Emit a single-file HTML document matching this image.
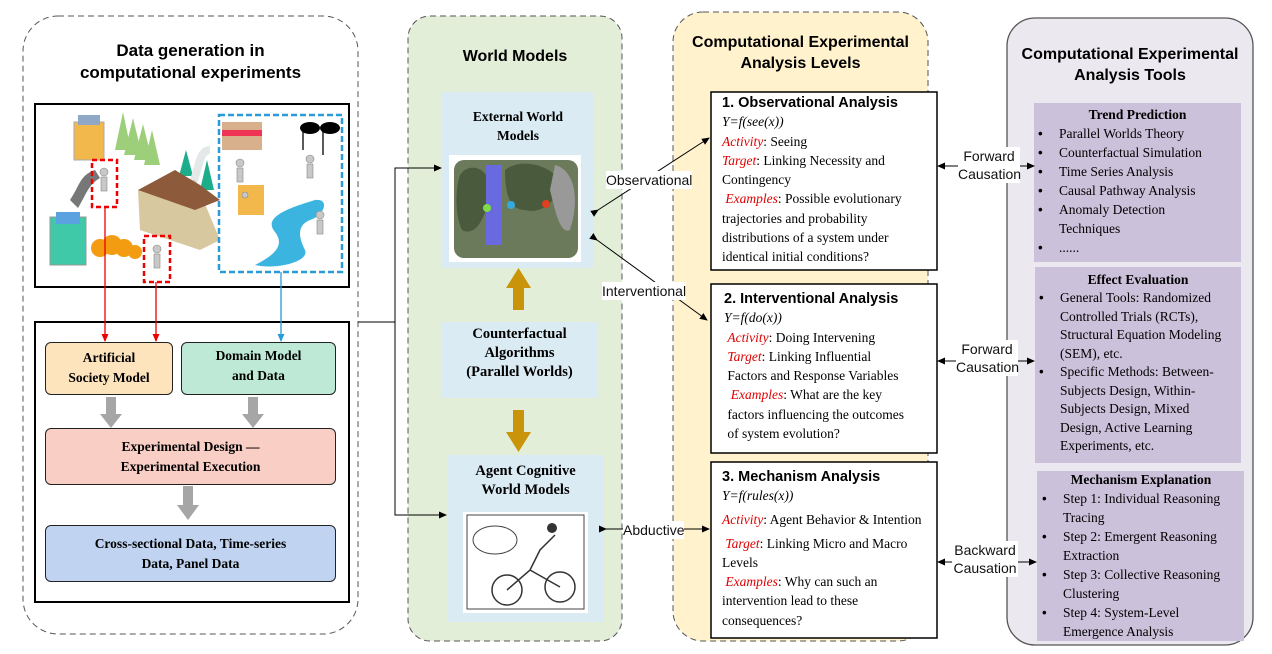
<!DOCTYPE html>
<html><head><meta charset="utf-8"><style>
html,body{margin:0;padding:0;background:#fff;}
body{width:1272px;height:654px;overflow:hidden;position:relative;font-family:"Liberation Serif",serif;}
.t{position:absolute;white-space:nowrap;}
.ti{font-family:"Liberation Sans",sans-serif;font-weight:bold;color:#000;text-align:center;}
.s{font-family:"Liberation Serif",serif;font-size:13.5px;line-height:19.3px;color:#000;}
.r{color:#e00000;font-style:italic;}
.box{position:absolute;box-sizing:border-box;}
.b{font-family:"Liberation Serif",serif;font-weight:bold;font-size:13.5px;text-align:center;line-height:20px;}
ul{margin:0;padding:0;list-style:none;}
li{position:relative;padding-left:25px;}
li:before{content:"•";position:absolute;left:4px;top:0;font-family:"Liberation Sans",sans-serif;}
.sans{font-family:"Liberation Sans",sans-serif;font-size:14px;line-height:18px;background:#fff;color:#111;text-align:center;}
</style></head><body>
<svg width="1272" height="654" style="position:absolute;left:0;top:0">
<defs>
<marker id="a" markerWidth="8" markerHeight="8" refX="7" refY="4" orient="auto" markerUnits="userSpaceOnUse"><path d="M0,0.5 L8,4 L0,7.5z" fill="#000"/></marker>
<marker id="ar" markerWidth="8" markerHeight="8" refX="7" refY="4" orient="auto" markerUnits="userSpaceOnUse"><path d="M0,0.5 L8,4 L0,7.5z" fill="#e00"/></marker>
<marker id="ab" markerWidth="8" markerHeight="8" refX="7" refY="4" orient="auto" markerUnits="userSpaceOnUse"><path d="M0,0.5 L8,4 L0,7.5z" fill="#2a9bd7"/></marker>
</defs>
<rect x="23" y="16" width="335" height="618" rx="35" fill="#fff" stroke="#555" stroke-dasharray="6,4"/>
<rect x="408" y="16" width="214" height="625" rx="22" fill="#e3eed9" stroke="#555" stroke-dasharray="6,4"/>
<rect x="673" y="12" width="255" height="629" rx="30" fill="#fff2cc" stroke="#555" stroke-dasharray="6,4"/>
<rect x="1007" y="18" width="246" height="627" rx="28" fill="#ebe8f0" stroke="#555" stroke-width="1.3"/>
<rect x="35" y="104" width="314" height="183" fill="#fff" stroke="#000" stroke-width="2"/>
<rect x="35" y="322" width="314" height="280" fill="#fff" stroke="#000" stroke-width="2"/>
<path d="M70,200 C80,185 80,175 95,170 L100,178 C88,185 86,195 78,208 Z" fill="#777"/>
<rect x="74" y="122" width="30" height="38" fill="#f2b84b" stroke="#aaa"/>
<rect x="78" y="115" width="22" height="10" fill="#8fa8c8"/>
<rect x="50" y="217" width="36" height="48" fill="#3fc9a8" stroke="#999"/>
<rect x="56" y="212" width="24" height="12" fill="#5aa3e0"/>
<g fill="#9dcf7a"><polygon points="123,112 115,150 131,150"/><polygon points="133,118 124,155 142,155"/><polygon points="143,124 134,160 152,160"/><polygon points="152,130 144,165 160,165"/></g>
<g fill="#1cae8a"><polygon points="186,150 179,176 193,176"/><polygon points="207,160 200,190 214,190"/></g>
<path d="M210,150 C195,150 200,185 185,192" stroke="#e5e8e8" stroke-width="8" fill="none"/>
<polygon points="138,190 195,180 220,240 200,250 140,230" fill="#d8c8a0"/>
<polygon points="138,190 175,170 200,185 220,200 195,210" fill="#8d5a3c"/>
<g fill="#f39c12"><circle cx="100" cy="248" r="9"/><circle cx="112" cy="245" r="10"/><circle cx="124" cy="248" r="9"/><circle cx="135" cy="252" r="7"/></g>
<rect x="92" y="160" width="25" height="47" fill="none" stroke="#e00" stroke-width="2.5" stroke-dasharray="5,3"/>
<rect x="144" y="236" width="26" height="46" fill="none" stroke="#e00" stroke-width="2.5" stroke-dasharray="5,3"/>
<rect x="219" y="115" width="123" height="157" fill="none" stroke="#2a9bd7" stroke-width="2.5" stroke-dasharray="6,3"/>
<rect x="222" y="122" width="40" height="28" fill="#d8b08c"/><rect x="222" y="130" width="40" height="6" fill="#e35"/>
<rect x="238" y="185" width="26" height="30" fill="#f2b84b"/>
<path d="M275,232 C260,215 300,205 315,200 C330,198 325,215 310,220 C295,226 300,240 305,250 C310,262 275,270 255,265 C275,255 285,245 275,232Z" fill="#3cb4e0"/>
<g stroke="#000" stroke-width="1.3"><line x1="303" y1="128" x2="303" y2="150"/><line x1="323" y1="130" x2="323" y2="155"/></g>
<ellipse cx="310" cy="128" rx="10" ry="6" fill="#000"/><ellipse cx="330" cy="128" rx="10" ry="6" fill="#000"/>
<g fill="#c8c8c8" stroke="#888" stroke-width=".6">
<circle cx="104" cy="172" r="4"/><rect x="101" y="177" width="6" height="14"/>
<circle cx="157" cy="249" r="4"/><rect x="154" y="254" width="6" height="14"/>
<circle cx="240" cy="163" r="4"/><rect x="237" y="168" width="6" height="14"/>
<circle cx="310" cy="159" r="4"/><rect x="307" y="164" width="6" height="14"/>
<circle cx="320" cy="215" r="4"/><rect x="317" y="220" width="6" height="14"/>
<circle cx="245" cy="195" r="3"/></g>
<line x1="105" y1="207" x2="105" y2="341" stroke="#e00" stroke-width="1.3" marker-end="url(#ar)"/>
<line x1="156" y1="282" x2="156" y2="341" stroke="#e00" stroke-width="1.3" marker-end="url(#ar)"/>
<line x1="281" y1="272" x2="281" y2="341" stroke="#2a9bd7" stroke-width="1.3" marker-end="url(#ab)"/>
<g fill="#a6a6a6"><polygon points="106,397 116,397 116,414 122,414 111,428 100,414 106,414"/>
<polygon points="248,397 258,397 258,414 264,414 253,428 242,414 248,414"/>
<polygon points="183,486 193,486 193,505 199,505 188,520 177,505 183,505"/></g>
<polyline points="358,322 395,322" stroke="#000" fill="none"/>
<polyline points="440,168 395,168 395,515 445,515" stroke="#000" fill="none"/>
<line x1="420" y1="168" x2="441" y2="168" stroke="#000" marker-end="url(#a)"/>
<line x1="420" y1="515" x2="446" y2="515" stroke="#000" marker-end="url(#a)"/>
<rect x="442" y="92" width="152" height="176" fill="#dbebf3"/>
<rect x="449" y="155" width="132" height="107" fill="#fff"/>
<rect x="454" y="160" width="124" height="98" rx="10" fill="#6b7a5a"/>
<path d="M460,175 C470,160 490,170 488,185 C492,200 480,240 462,230 C455,215 455,190 460,175Z" fill="#4a5a3c"/>
<rect x="486" y="165" width="16" height="80" fill="#6a6ae0"/>
<path d="M505,170 C520,158 545,165 555,175 C565,200 540,215 525,210 C510,210 505,195 505,170Z" fill="#4a5a3c"/>
<path d="M555,165 C575,170 580,200 570,230 C560,235 555,210 550,190Z" fill="#999"/>
<circle cx="487" cy="208" r="4" fill="#7fdd44"/><circle cx="511" cy="205" r="4" fill="#33aadd"/><circle cx="546" cy="204" r="4" fill="#e04020"/>
<rect x="442" y="322" width="155" height="76" fill="#dbebf3"/>
<rect x="447" y="455" width="157" height="167" fill="#dbebf3"/>
<rect x="463" y="512" width="125" height="101" fill="#fff"/>
<rect x="467" y="515" width="117" height="94" fill="none" stroke="#444"/>
<ellipse cx="495" cy="540" rx="22" ry="14" fill="none" stroke="#444"/>
<g fill="none" stroke="#333" stroke-width="1.5"><circle cx="507" cy="590" r="15"/><circle cx="560" cy="587" r="15"/><path d="M507,590 L530,570 L560,587 M530,570 L540,550 L555,535"/></g>
<circle cx="552" cy="528" r="5" fill="#333"/>
<polygon points="513,310 524,310 524,288 531,288 518.5,268 506,288 513,288" fill="#c9940a"/>
<polygon points="513,410 524,410 524,432 531,432 518.5,452 506,432 513,432" fill="#c9940a"/>
<line x1="598" y1="210" x2="709" y2="138" stroke="#000" marker-start="url(#a)" marker-end="url(#a)"/>
<line x1="597" y1="240" x2="707" y2="320" stroke="#000" marker-start="url(#a)" marker-end="url(#a)"/>
<line x1="606" y1="529" x2="709" y2="529" stroke="#000" marker-start="url(#a)" marker-end="url(#a)"/>
<rect x="711" y="92" width="226" height="178" fill="#fff" stroke="#000" stroke-width="1.5"/>
<rect x="711" y="284" width="226" height="169" fill="#fff" stroke="#000" stroke-width="1.5"/>
<rect x="711" y="462" width="226" height="176" fill="#fff" stroke="#000" stroke-width="1.5"/>
<rect x="1034" y="103" width="207" height="159" fill="#ccc1da"/>
<rect x="1035" y="267" width="206" height="196" fill="#ccc1da"/>
<rect x="1037" y="471" width="207" height="170" fill="#ccc1da"/>
<g stroke="#000">
<line x1="960" y1="166" x2="938" y2="166" marker-end="url(#a)"/><line x1="1020" y1="166" x2="1034" y2="166" marker-end="url(#a)"/>
<line x1="958" y1="361" x2="938" y2="361" marker-end="url(#a)"/><line x1="1018" y1="361" x2="1034" y2="361" marker-end="url(#a)"/>
<line x1="956" y1="562" x2="938" y2="562" marker-end="url(#a)"/><line x1="1018" y1="562" x2="1036" y2="562" marker-end="url(#a)"/>
</g>
</svg>

<div class="t ti" style="left:23px;width:335px;top:40px;font-size:17px;line-height:22px">Data generation in<br>computational experiments</div>
<div class="t ti" style="left:408px;width:214px;top:48px;font-size:16px">World Models</div>
<div class="t ti" style="left:673px;width:255px;top:32px;font-size:16px;line-height:21px">Computational Experimental<br>Analysis Levels</div>
<div class="t ti" style="left:1007px;width:246px;top:44px;font-size:16px;line-height:21px">Computational Experimental<br>Analysis Tools</div>

<div class="box b" style="left:45px;top:342px;width:128px;height:53px;background:#fde4bd;border:1.5px solid #222;border-radius:6px;padding-top:5px">Artificial<br>Society Model</div>
<div class="box b" style="left:181px;top:342px;width:155px;height:53px;background:#bde9d6;border:1.5px solid #222;border-radius:6px;padding-top:3px">Domain Model<br>and Data</div>
<div class="box b" style="left:45px;top:428px;width:291px;height:57px;background:#f9cec5;border:1.5px solid #222;border-radius:6px;padding-top:8px">Experimental Design —<br>Experimental Execution</div>
<div class="box b" style="left:45px;top:525px;width:291px;height:57px;background:#c0d4f2;border:1.5px solid #222;border-radius:6px;padding-top:8px">Cross-sectional Data, Time-series<br>Data, Panel Data</div>

<div class="t b" style="left:442px;width:152px;top:107px;line-height:19px">External World<br>Models</div>
<div class="t b" style="left:442px;width:155px;top:325px;line-height:19px;font-size:14.5px">Counterfactual<br>Algorithms<br>(Parallel Worlds)</div>
<div class="t b" style="left:447px;width:157px;top:462px;line-height:19px;font-size:14.5px">Agent Cognitive<br>World Models</div>

<div class="t sans" style="left:606px;top:171px">Observational</div>
<div class="t sans" style="left:602px;top:282px">Interventional</div>
<div class="t sans" style="left:623px;top:521px">Abductive</div>

<div class="t s" style="left:722px;top:93px"><span style="font-family:'Liberation Sans',sans-serif;font-size:14.5px;font-weight:bold;line-height:18px">1. Observational Analysis</span><br><i>Y=f(see(x))</i><br><span class="r">Activity</span>: Seeing<br><span class="r">Target</span>: Linking Necessity and<br>Contingency<br>&nbsp;<span class="r">Examples</span>: Possible evolutionary<br>trajectories and probability<br>distributions of a system under<br>identical initial conditions?</div>
<div class="t s" style="left:724px;top:289px"><span style="font-family:'Liberation Sans',sans-serif;font-size:14.5px;font-weight:bold;line-height:18px">2. Interventional Analysis</span><br><i>Y=f(do(x))</i><br>&nbsp;<span class="r">Activity</span>: Doing Intervening<br>&nbsp;<span class="r">Target</span>: Linking Influential<br>&nbsp;Factors and Response Variables<br>&nbsp;&nbsp;<span class="r">Examples</span>: What are the key<br>&nbsp;factors influencing the outcomes<br>&nbsp;of system evolution?</div>
<div class="t s" style="left:722px;top:467px"><span style="font-family:'Liberation Sans',sans-serif;font-size:14.5px;font-weight:bold;line-height:18px">3. Mechanism Analysis</span><br><i>Y=f(rules(x))</i><br><span style="line-height:28px"><span class="r">Activity</span>: Agent Behavior &amp; Intention</span><br>&nbsp;<span class="r">Target</span>: Linking Micro and Macro<br>Levels<br>&nbsp;<span class="r">Examples</span>: Why can such an<br>intervention lead to these<br>consequences?</div>

<div class="t sans" style="left:958px;top:147px;width:62px">Forward<br>Causation</div>
<div class="t sans" style="left:956px;top:340px;width:62px">Forward<br>Causation</div>
<div class="t sans" style="left:952px;top:541px;width:66px">Backward<br>Causation</div>

<div class="t s" style="left:1034px;top:105px;width:207px;line-height:19px"><div class="b" style="line-height:19px">Trend Prediction</div><ul><li>Parallel Worlds Theory</li><li>Counterfactual Simulation</li><li>Time Series Analysis</li><li>Causal Pathway Analysis</li><li>Anomaly Detection<br>Techniques</li><li>......</li></ul></div>
<div class="t s" style="left:1035px;top:270px;width:206px;line-height:18.5px"><div class="b" style="line-height:19px">Effect Evaluation</div><ul><li>General Tools: Randomized<br>Controlled Trials (RCTs),<br>Structural Equation Modeling<br>(SEM), etc.</li><li>Specific Methods: Between-<br>Subjects Design, Within-<br>Subjects Design, Mixed<br>Design, Active Learning<br>Experiments, etc.</li></ul></div>
<div class="t s" style="left:1038px;top:471px;width:206px;line-height:19px"><div class="b" style="line-height:18px">Mechanism Explanation</div><ul><li>Step 1: Individual Reasoning<br>Tracing</li><li>Step 2: Emergent Reasoning<br>Extraction</li><li>Step 3: Collective Reasoning<br>Clustering</li><li>Step 4: System-Level<br>Emergence Analysis</li></ul></div>
</body></html>
